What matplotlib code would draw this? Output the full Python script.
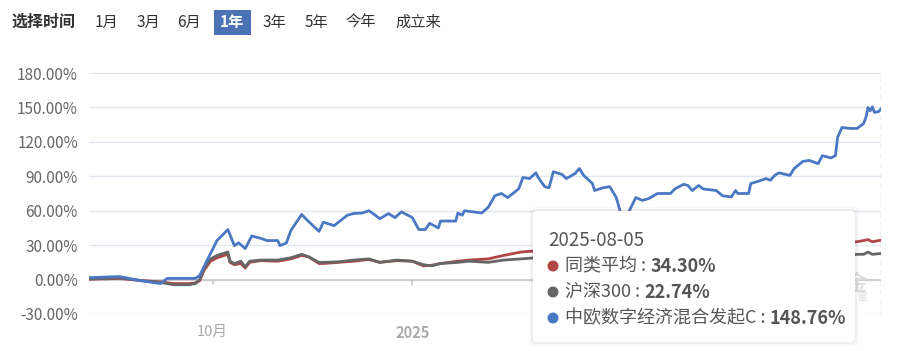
import numpy as np
import pandas as pd
import matplotlib
matplotlib.use("Agg")
import matplotlib.pyplot as plt
import matplotlib.dates as mdates
from matplotlib.patches import FancyBboxPatch, Ellipse

plt.rcParams['font.family'] = ['Noto Sans CJK SC', 'DejaVu Sans']

# fund line (中欧数字经济混合发起C), cumulative return in %
fund_dates = ["2024-08-05", "2024-08-19", "2024-08-29", "2024-09-07", "2024-09-10", "2024-09-23",
              "2024-09-25", "2024-09-29", "2024-10-03", "2024-10-08", "2024-10-11", "2024-10-13",
              "2024-10-16", "2024-10-19", "2024-10-23", "2024-10-26", "2024-10-31", "2024-11-01",
              "2024-11-04", "2024-11-06", "2024-11-11", "2024-11-14", "2024-11-19", "2024-11-21",
              "2024-11-26", "2024-11-28", "2024-12-02", "2024-12-05", "2024-12-09", "2024-12-12",
              "2024-12-15", "2024-12-17", "2024-12-21", "2024-12-24", "2024-12-27", "2025-01-01",
              "2025-01-04", "2025-01-07", "2025-01-09", "2025-01-13", "2025-01-14", "2025-01-21",
              "2025-01-22", "2025-01-24", "2025-01-25", "2025-02-02", "2025-02-05", "2025-02-08",
              "2025-02-11", "2025-02-14", "2025-02-19", "2025-02-21", "2025-02-24", "2025-02-27",
              "2025-02-28", "2025-03-03", "2025-03-05", "2025-03-07", "2025-03-11", "2025-03-13",
              "2025-03-17", "2025-03-19", "2025-03-21", "2025-03-25", "2025-03-26", "2025-03-30",
              "2025-04-02", "2025-04-05", "2025-04-07", "2025-04-10", "2025-04-14", "2025-04-17",
              "2025-04-20", "2025-04-24", "2025-04-30", "2025-05-02", "2025-05-06", "2025-05-08",
              "2025-05-10", "2025-05-13", "2025-05-15", "2025-05-21", "2025-05-24", "2025-05-28",
              "2025-05-30", "2025-05-31", "2025-06-05", "2025-06-06", "2025-06-10", "2025-06-13",
              "2025-06-15", "2025-06-17", "2025-06-19", "2025-06-24", "2025-06-26", "2025-06-30",
              "2025-07-03", "2025-07-07", "2025-07-09", "2025-07-13", "2025-07-15", "2025-07-16",
              "2025-07-18", "2025-07-22", "2025-07-25", "2025-07-28", "2025-07-29", "2025-07-30",
              "2025-07-31", "2025-08-01", "2025-08-02", "2025-08-04", "2025-08-05"]
fund_vals = [1.7, 2.6, -1.0, -3.5, 1.0, 1.0,
             3.5, 19.0, 34.0, 43.6, 29.6, 32.0,
             27.0, 38.0, 36.0, 34.0, 34.0, 29.6,
             32.0, 42.7, 56.7, 51.0, 42.0, 50.0,
             47.0, 50.0, 56.0, 57.6, 58.0, 60.0,
             56.0, 53.0, 57.5, 54.0, 59.0, 54.0,
             43.6, 43.6, 49.0, 45.0, 51.0, 51.0,
             58.0, 56.0, 60.0, 58.0, 63.0, 73.0,
             75.0, 71.5, 79.0, 89.0, 88.0, 93.0,
             89.0, 81.0, 80.0, 94.0, 91.6, 88.0,
             92.4, 96.8, 90.7, 83.7, 77.6, 80.0,
             81.0, 71.5, 58.0, 56.0, 71.5, 69.0,
             70.6, 75.0, 75.0, 79.0, 83.0, 82.0,
             77.6, 82.0, 79.0, 77.6, 73.0, 72.0,
             77.6, 75.0, 75.0, 83.7, 86.0, 88.0,
             86.5, 90.7, 93.0, 90.7, 96.8, 103.0,
             103.8, 101.0, 108.0, 106.0, 108.0, 124.0,
             132.5, 131.7, 131.7, 136.0, 141.0, 150.0,
             147.0, 150.5, 145.6, 146.5, 148.76]

# peer average (同类平均) and CSI 300 (沪深300)
bench_dates = ["2024-08-05", "2024-08-19", "2024-08-29", "2024-09-07", "2024-09-13", "2024-09-20",
               "2024-09-23", "2024-09-25", "2024-09-27", "2024-09-30", "2024-10-03", "2024-10-08",
               "2024-10-09", "2024-10-11", "2024-10-14", "2024-10-16", "2024-10-18", "2024-10-23",
               "2024-10-31", "2024-11-06", "2024-11-11", "2024-11-14", "2024-11-19", "2024-11-21",
               "2024-11-28", "2024-12-05", "2024-12-12", "2024-12-17", "2024-12-25", "2025-01-01",
               "2025-01-06", "2025-01-10", "2025-01-14", "2025-01-22", "2025-01-27", "2025-02-05",
               "2025-02-12", "2025-02-20", "2025-02-27", "2025-03-05", "2025-03-14", "2025-03-20",
               "2025-03-28", "2025-04-07", "2025-04-10", "2025-04-18", "2025-04-30", "2025-05-14",
               "2025-05-30", "2025-06-13", "2025-06-30", "2025-07-15", "2025-07-25", "2025-07-28",
               "2025-07-30", "2025-08-01", "2025-08-05"]
peer_vals = [0.3, 1.0, -0.8, -2.0, -3.5, -3.5,
             -3.0, -1.0, 8.0, 16.0, 19.0, 22.0,
             15.0, 13.0, 14.0, 10.0, 15.0, 16.5,
             16.0, 18.0, 21.0, 20.0, 14.0, 14.0,
             15.0, 16.0, 17.5, 15.0, 16.5, 16.0,
             12.0, 12.5, 14.0, 16.0, 17.0, 18.0,
             21.0, 24.0, 25.0, 25.0, 27.0, 27.0,
             25.0, 13.0, 17.0, 19.0, 21.0, 24.0,
             24.0, 25.0, 28.0, 31.0, 33.0, 34.0,
             34.8, 33.0, 34.30]
hs300_vals = [0.5, 1.5, -1.0, -2.5, -4.5, -4.5,
              -3.5, 0.0, 10.0, 18.0, 21.0, 24.0,
              16.0, 14.0, 16.0, 11.0, 16.0, 17.0,
              17.0, 19.0, 22.0, 20.0, 15.0, 15.0,
              15.5, 17.0, 18.0, 15.0, 17.0, 16.0,
              13.0, 12.0, 14.0, 15.0, 16.0, 15.0,
              17.0, 18.0, 19.0, 18.0, 20.0, 19.0,
              17.0, 8.0, 11.0, 12.0, 13.0, 16.0,
              15.0, 16.0, 18.0, 20.0, 22.0, 22.0,
              24.0, 22.0, 22.74]

y_ticks = [-30, 0, 30, 60, 90, 120, 150, 180]
x_ticks = ["2024-10-01", "2025-01-01"]
x_tick_labels = ["10月", "2025"]
buttons = ["1月", "3月", "6月", "1年", "3年", "5年", "今年", "成立来"]
button_x = [107, 148, 189, 232, 274, 316, 361, 418]

tip_date = "2025-08-05"
tip_names = ["同类平均", "沪深300", "中欧数字经济混合发起C"]
tip_vals = ["34.30%", "22.74%", "148.76%"]

BLUE = "#4a78c2"
RED = "#b04545"
GRAY = "#666666"

W, H = 906, 351
fig = plt.figure(figsize=(W / 100, H / 100), dpi=100)


def fx(px):
    return px / W


def fy(py):
    return 1 - py / H


ax = fig.add_axes([fx(89), fy(314), fx(881) - fx(89), fy(73) - fy(314)])

fd = pd.to_datetime(fund_dates)
bd = pd.to_datetime(bench_dates)
ax.plot(bd, peer_vals, color=RED, lw=2.0, zorder=3)
ax.plot(bd, hs300_vals, color=GRAY, lw=2.0, zorder=4)
ax.plot(fd, fund_vals, color=BLUE, lw=2.0, zorder=5)

ax.set_xlim(pd.Timestamp("2024-08-05"), pd.Timestamp("2025-08-05"))
ax.set_ylim(-30, 180)
ax.set_yticks(y_ticks)
ax.set_yticklabels(["%.2f%%" % v for v in y_ticks])
ax.grid(axis='y', color="#e3e7f0", lw=1)
ax.set_axisbelow(True)
for s in ax.spines.values():
    s.set_visible(False)
ax.tick_params(axis='y', length=0, pad=8, labelsize=11, labelcolor="#666666")

# x axis sits on the zero line
ax.axhline(0, color="#c8c8c8", lw=1.2, zorder=2)
xt = pd.to_datetime(x_ticks)
ax.vlines(xt, -4.5, 0, color="#c8c8c8", lw=1.2, zorder=2)
ax.set_xticks(xt)
ax.set_xticklabels(x_tick_labels)
ax.tick_params(axis='x', length=0, pad=8, labelsize=10.5, labelcolor="#aaaaaa")
ax.get_xticklabels()[1].set_fontweight('bold')

# hover pointer line
ax.axvline(pd.Timestamp(tip_date), color="#b8b8c8", lw=1, ls=(0, (4, 3)), zorder=1)

# faint watermark partly behind the tooltip
fig.text(fx(868), fy(283), "天天基金", fontsize=15, color="#dddddd", ha='right', va='center',
         fontweight='bold', zorder=1)
fig.text(fx(868), fy(297), "财 富", fontsize=7, color="#dddddd", ha='right', va='center', zorder=1)

# tooltip box
for grow, a in [(4, 0.025), (2, 0.04)]:
    fig.patches.append(FancyBboxPatch((fx(533 - grow), fy(342 + grow)),
                                      fx(855 + grow) - fx(533 - grow), fy(211 - grow) - fy(342 + grow),
                                      boxstyle="round,pad=0,rounding_size=0.008",
                                      transform=fig.transFigure, facecolor="#000000",
                                      edgecolor="none", alpha=a, zorder=10))
box = FancyBboxPatch((fx(533), fy(342)), fx(855) - fx(533), fy(211) - fy(342),
                     boxstyle="round,pad=0,rounding_size=0.006", transform=fig.transFigure,
                     facecolor="white", edgecolor="none", zorder=11)
fig.patches.append(box)
fig.text(fx(548), fy(240), tip_date, fontsize=13.5, color="#555555", va='center', zorder=12)
dot_colors = [RED, GRAY, BLUE]
for i, (name, val) in enumerate(zip(tip_names, tip_vals)):
    yy = 266 + i * 26
    fig.patches.append(Ellipse((fx(553), fy(yy)), 11 / W, 11 / H, transform=fig.transFigure,
                               facecolor=dot_colors[i], edgecolor="none", zorder=12))
    t = fig.text(fx(565), fy(yy), name + " : ", fontsize=13, color="#555555", va='center', zorder=12)
    fig.canvas.draw()
    bb = t.get_window_extent()
    fig.text(bb.x1 / W, fy(yy), val, fontsize=13, color="#555555", fontweight='bold',
             va='center', zorder=12)

# time range buttons
fig.text(fx(12), fy(22), "选择时间", fontsize=11.5, color="#333333", fontweight='bold', va='center')
for lab, bx in zip(buttons, button_x):
    if lab == "1年":
        fig.patches.append(FancyBboxPatch((fx(214), fy(35)), fx(251) - fx(214), fy(10) - fy(35),
                                          boxstyle="square,pad=0", transform=fig.transFigure,
                                          facecolor="#4a72b5", edgecolor="none"))
        fig.text(fx(bx), fy(22), lab, fontsize=11, color="white", fontweight='bold',
                 ha='center', va='center')
    else:
        fig.text(fx(bx), fy(22), lab, fontsize=11, color="#333333", ha='center', va='center')

fig.savefig("out.png", dpi=100)
